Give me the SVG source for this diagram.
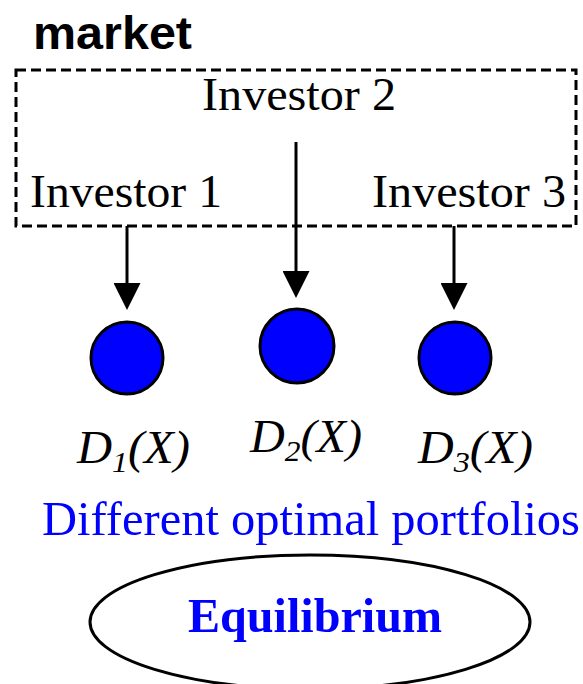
<svg xmlns="http://www.w3.org/2000/svg" width="583" height="684" viewBox="0 0 583 684">
  <style>
    .node { fill: #0000FF; stroke: #000; stroke-width: 3; }
    .conn { stroke: #000; stroke-width: 3; fill: none; }
  </style>
  <defs>
    <marker id="ah" viewBox="0 0 27 27" markerWidth="27" markerHeight="27" refX="0" refY="13.5" orient="auto" markerUnits="userSpaceOnUse">
      <path d="M0,0 L27,13.5 L0,27 z" fill="#000"/>
    </marker>
  </defs>
  <rect width="583" height="684" fill="#fff"/>

  <g id="market">
    <text x="33" y="49" font-family="Liberation Sans" font-weight="bold" font-size="46" textLength="159" lengthAdjust="spacingAndGlyphs">market</text>
    <rect x="16" y="70" width="560" height="156" fill="none" stroke="#000" stroke-width="3" stroke-dasharray="10,5"/>
  </g>

  <g id="investor1">
    <text font-family="Liberation Serif" font-size="47" x="30" y="207" textLength="192" lengthAdjust="spacingAndGlyphs">Investor 1</text>
  </g>
  <g id="investor2">
    <text font-family="Liberation Serif" font-size="47" x="202" y="110" textLength="194" lengthAdjust="spacingAndGlyphs">Investor 2</text>
  </g>
  <g id="investor3">
    <text font-family="Liberation Serif" font-size="47" x="372" y="207" textLength="194" lengthAdjust="spacingAndGlyphs">Investor 3</text>
  </g>

  <g id="connectors">
    <line class="conn" x1="127" y1="226" x2="127" y2="283" marker-end="url(#ah)"/>
    <line class="conn" x1="296" y1="142" x2="296" y2="271" marker-end="url(#ah)"/>
    <line class="conn" x1="454" y1="226" x2="454" y2="283" marker-end="url(#ah)"/>
  </g>

  <g id="d1">
    <circle class="node" cx="127" cy="358" r="36"/>
    <text font-family="Liberation Serif" x="77" y="463" font-size="46" font-style="italic" textLength="113" lengthAdjust="spacingAndGlyphs">D<tspan font-size="30" dy="9">1</tspan><tspan dy="-9">(X)</tspan></text>
  </g>
  <g id="d2">
    <circle class="node" cx="297" cy="346" r="37"/>
    <text font-family="Liberation Serif" x="250" y="452" font-size="46" font-style="italic" textLength="112" lengthAdjust="spacingAndGlyphs">D<tspan font-size="30" dy="9">2</tspan><tspan dy="-9">(X)</tspan></text>
  </g>
  <g id="d3">
    <circle class="node" cx="455" cy="358" r="36"/>
    <text font-family="Liberation Serif" x="418" y="463" font-size="46" font-style="italic" textLength="115" lengthAdjust="spacingAndGlyphs">D<tspan font-size="30" dy="9">3</tspan><tspan dy="-9">(X)</tspan></text>
  </g>

  <g id="portfolios">
    <text font-family="Liberation Serif" fill="#0000FF" x="42" y="535" font-size="48" textLength="538" lengthAdjust="spacingAndGlyphs">Different optimal portfolios</text>
  </g>

  <g id="equilibrium">
    <ellipse cx="310" cy="622" rx="220" ry="67" fill="none" stroke="#000" stroke-width="3"/>
    <text font-family="Liberation Serif" fill="#0000FF" x="188" y="632" font-size="48" font-weight="bold" textLength="254" lengthAdjust="spacingAndGlyphs">Equilibrium</text>
  </g>
</svg>
